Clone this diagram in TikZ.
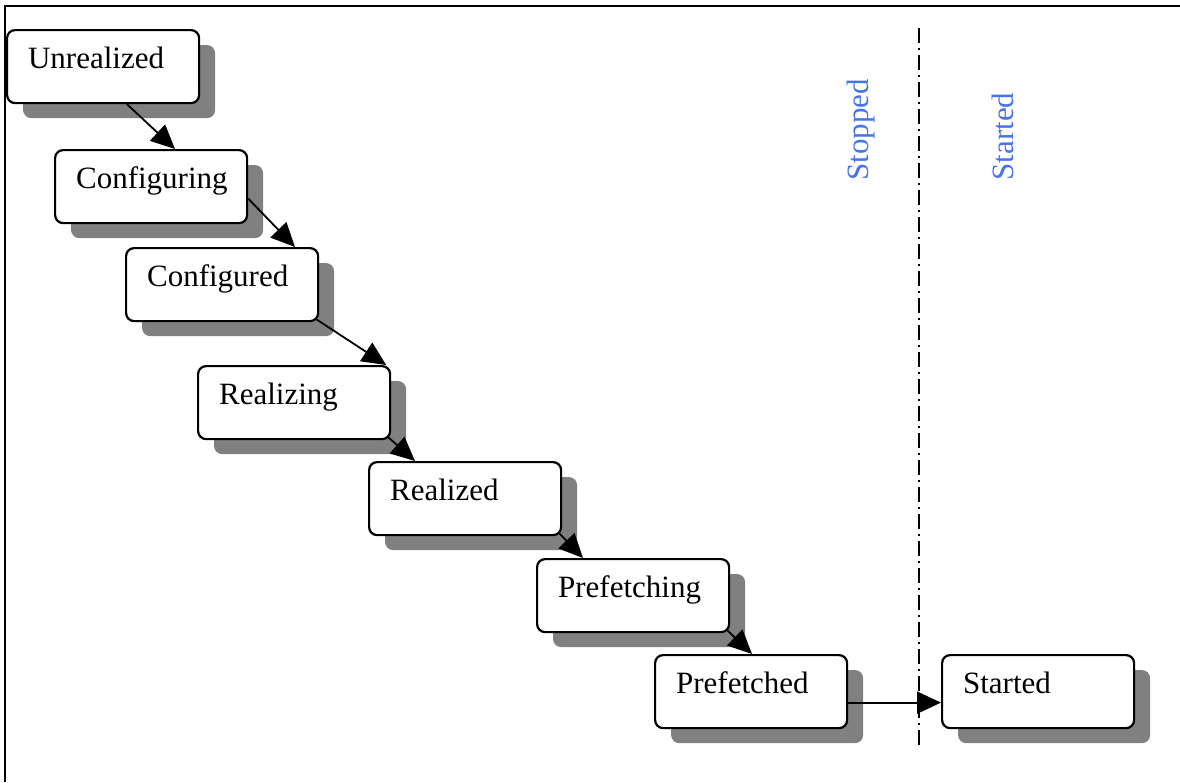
\documentclass[tikz,border=0pt]{standalone}
\usepackage{fontspec}
\setmainfont{Liberation Serif}
\usetikzlibrary{arrows.meta,shadows}
\definecolor{phaseblue}{RGB}{70,115,235}

\begin{document}
\begin{tikzpicture}[x=1pt,y=1pt,
    every node/.style={font=\fontsize{31}{37}\selectfont},
    state/.style={draw, line width=2.2pt, rounded corners=8pt, fill=white,
      anchor=north west, text width=150pt, align=left,
      inner xsep=21pt, inner ysep=10pt, text height=28pt, text depth=25pt,
      drop shadow={shadow xshift=16pt, shadow yshift=-15pt, fill=black!50, opacity=1}},
    trans/.style={line width=1.8pt, -{Triangle[length=24pt,width=22pt]}},
    phase/.style={rotate=90, anchor=base west, text=phaseblue}]
  \useasboundingbox (0,0) rectangle (1180,-782);
  \draw[line width=2.6pt] (5,-782) -- (5,-6) -- (1180,-6);

  % the two phases
  \draw[line width=1.8pt, dash pattern=on 15pt off 5pt on 2pt off 5pt] (919,-28) -- (919,-745);
  \node[phase] (stopped) at (868,-184) {Stopped};
  \node[phase] (startedphase) at (1013,-184) {Started};

  % states
  \node[state] (unrealized)  at (6,-29)   {Unrealized};
  \node[state] (configuring) at (54,-149) {Configuring};
  \node[state] (configured)  at (125,-247) {Configured};
  \node[state] (realizing)   at (197,-365) {Realizing};
  \node[state] (realized)    at (368,-461) {Realized};
  \node[state] (prefetching) at (536,-558) {Prefetching};
  \node[state] (prefetched)  at (654,-654) {Prefetched};
  \node[state] (started)     at (941,-654) {Started};

  % transitions
  \draw[trans] ([xshift=121pt]unrealized.south west) -- ([xshift=121pt]configuring.north west);
  \draw[trans] ([yshift=-12pt]configuring.east) -- ([xshift=170pt]configured.north west);
  \draw[trans] ([shift={(-3pt,3pt)}]configured.south east) -- ([xshift=-5pt]realizing.north east);
  \foreach \a/\b in {realizing/realized, realized/prefetching}
    \draw[trans] ([shift={(-3pt,3pt)}]\a.south east) -- ([xshift=47pt]\b.north west);
  \draw[trans] ([shift={(-3pt,3pt)}]prefetching.south east) -- ([xshift=98pt]prefetched.north west);
  \draw[trans] ([yshift=-11pt]prefetched.east) -- ([yshift=-11pt]started.west);
\end{tikzpicture}
\end{document}
